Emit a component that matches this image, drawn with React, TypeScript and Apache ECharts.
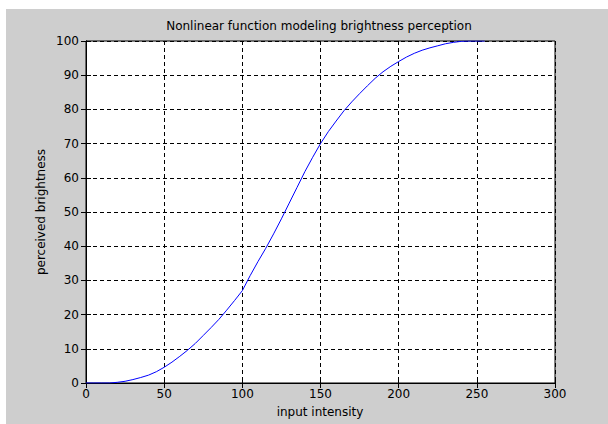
import React, { useEffect, useRef } from "react";
import * as echarts from "echarts";

const intensity = [0,5,10,15,20,25,30,35,40,45,50,55,60,65,70,75,80,85,90,95,100,105,110,115,120,125,130,135,140,145,150,155,160,165,170,175,180,185,190,195,200,205,210,215,220,225,230,235,240,245,250,255];
const brightness = [0,0,0,0,0.2,0.5,1.0,1.6,2.3,3.3,4.6,6.1,7.8,9.6,11.6,13.9,16.2,18.6,21.3,24.1,27.0,31.4,35.5,39.4,43.6,48.0,52.6,57.2,61.8,66.0,70.0,73.5,76.6,79.6,82.2,84.6,86.9,89.1,91.0,92.6,94.0,95.3,96.4,97.3,98.0,98.6,99.2,99.6,99.9,100,100,100];

const chartTitle = "Nonlinear function modeling brightness perception";
const xName = "input intensity";
const yName = "perceived brightness";

const FONT = "'DejaVu Sans', sans-serif";

export default function App() {
  const ref = useRef<HTMLDivElement>(null);
  useEffect(() => {
    if (!ref.current) return;
    const chart = echarts.init(ref.current, null, { renderer: "svg" });
    const grid = { left: 86, top: 41, width: 469, height: 342 };
    const dashed = { show: true, lineStyle: { color: "#000", width: 1, type: [4, 3] as any } };
    const label = { color: "#000", fontFamily: FONT, fontSize: 12 };
    chart.setOption({
      animation: false,
      backgroundColor: "#ffffff",
      graphic: [
        { type: "rect", left: 6, top: 9, shape: { width: 602, height: 415 }, style: { fill: "#cecece" }, z: -10 },
        {
          type: "text", x: 319, y: 26,
          style: { text: chartTitle, fill: "#000", font: `12px ${FONT}`, align: "center", verticalAlign: "middle" },
        },
        {
          type: "text", x: 320, y: 412,
          style: { text: xName, fill: "#000", font: `12px ${FONT}`, align: "center", verticalAlign: "middle" },
        },
        {
          type: "text", x: 41, y: 212, rotation: Math.PI / 2,
          style: { text: yName, fill: "#000", font: `12px ${FONT}`, align: "center", verticalAlign: "middle" },
        },
      ],
      grid: { ...grid, show: true, backgroundColor: "#ffffff", borderColor: "#000", borderWidth: 1 },
      xAxis: [
        {
          type: "value", min: 0, max: 300, interval: 50, position: "bottom",
          axisLine: { show: true, onZero: false, lineStyle: { color: "#000" } },
          axisTick: { show: true, inside: true, length: 5, lineStyle: { color: "#000" } },
          axisLabel: { ...label, margin: 5 },
          splitLine: dashed,
        },
        {
          type: "value", min: 0, max: 300, interval: 50, position: "top",
          axisLine: { show: true, lineStyle: { color: "#000" } },
          axisTick: { show: true, inside: true, length: 5, lineStyle: { color: "#000" } },
          axisLabel: { show: false },
          splitLine: { show: false },
        },
      ],
      yAxis: [
        {
          type: "value", min: 0, max: 100, interval: 10, position: "left",
          axisLine: { show: true, onZero: false, lineStyle: { color: "#000" } },
          axisTick: { show: true, inside: true, length: 5, lineStyle: { color: "#000" } },
          axisLabel: { ...label, margin: 7 },
          splitLine: dashed,
        },
        {
          type: "value", min: 0, max: 100, interval: 10, position: "right",
          axisLine: { show: true, lineStyle: { color: "#000" } },
          axisTick: { show: true, inside: true, length: 5, lineStyle: { color: "#000" } },
          axisLabel: { show: false },
          splitLine: { show: false },
        },
      ],
      series: [
        {
          type: "line",
          xAxisIndex: 0,
          yAxisIndex: 0,
          data: intensity.map((x, i) => [x, brightness[i]]),
          showSymbol: false,
          symbol: "none",
          lineStyle: { color: "#0000ff", width: 1 },
          z: 5,
        },
      ],
    });
    return () => chart.dispose();
  }, []);
  return (
    <div style={{ position: "fixed", left: 0, top: 0, width: 608, height: 424, background: "#fff" }}>
      <div ref={ref} style={{ width: 608, height: 424 }} />
    </div>
  );
}
